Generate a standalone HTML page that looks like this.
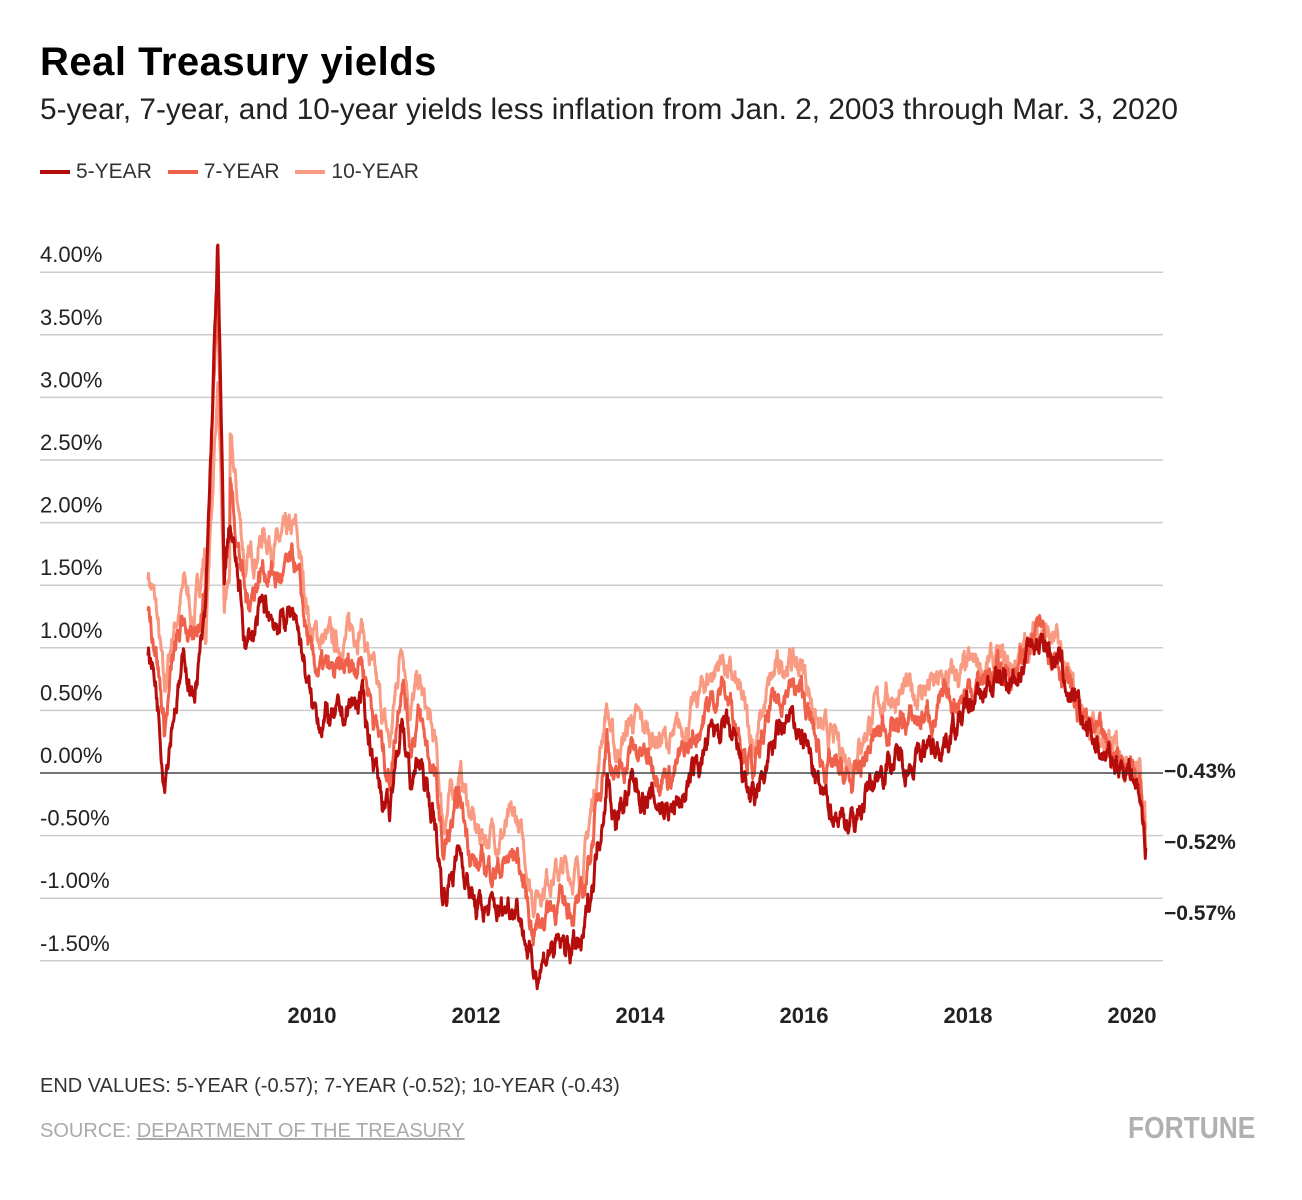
<!DOCTYPE html>
<html><head><meta charset="utf-8"><style>
body{margin:0;background:#fff;width:1302px;height:1200px;overflow:hidden;font-family:"Liberation Sans",sans-serif;}
.t{position:absolute;white-space:nowrap;}
</style></head><body>
<div class="t" style="left:40px;top:40px;font-size:40px;font-weight:bold;color:#000;letter-spacing:0.5px">Real Treasury yields</div>
<div class="t" style="left:40px;top:93px;font-size:29.8px;color:#222">5-year, 7-year, and 10-year yields less inflation from Jan. 2, 2003 through Mar. 3, 2020</div>
<div class="t" style="left:40px;top:160px;font-size:21px;color:#333">
<span style="display:inline-block;width:30px;height:4px;background:#b50c0c;vertical-align:middle;margin-right:6px"></span>5-YEAR
<span style="display:inline-block;width:30px;height:4px;background:#f0614b;vertical-align:middle;margin:0 6px 0 10px"></span>7-YEAR
<span style="display:inline-block;width:30px;height:4px;background:#f99b83;vertical-align:middle;margin:0 6px 0 10px"></span>10-YEAR</div>
<svg id="c" width="1302" height="1200" style="position:absolute;left:0;top:0"></svg>
<div class="t" style="left:40px;top:1075px;font-size:20px;color:#333">END VALUES: 5-YEAR (-0.57); 7-YEAR (-0.52); 10-YEAR (-0.43)</div>
<div class="t" style="left:40px;top:1120px;font-size:20px;color:#aaa">SOURCE: <span style="text-decoration:underline">DEPARTMENT OF THE TREASURY</span></div>
<div class="t" style="left:1128px;top:1110px;font-size:31px;font-weight:bold;color:#b0b0b0;transform:scaleX(0.85);transform-origin:left">FORTUNE</div>
<script>
var s=document.getElementById('c'),h='';
function Y(v){return 773-v*125.2;}
function X(t){return 312+(t-2010)*82;}
for(var i=-3;i<=8;i++){var v=i*0.5,y=Y(v);
 if(i!=0)h+='<line x1="40" x2="1163" y1="'+y+'" y2="'+y+'" stroke="#ccc" stroke-width="1.5"/>';
 h+='<text x="40" y="'+(y-10)+'" font-size="22" fill="#222" font-family="Liberation Sans">'+(v<0?'-':'')+Math.abs(v).toFixed(2)+'%</text>';}
[2010,2012,2014,2016,2018,2020].forEach(function(yr){h+='<text x="'+X(yr)+'" y="1023" font-size="22" font-weight="bold" text-anchor="middle" fill="#222" font-family="Liberation Sans">'+yr+'</text>';});
var k5=[[2008,1.0],[2008.1,0.7],[2008.2,0.0],[2008.3,0.5],[2008.45,0.9],[2008.55,0.6],[2008.7,1.2],[2008.78,2.8],[2008.85,4.2],[2008.93,1.5],[2009.0,2.0],[2009.2,1.0],[2009.4,1.3],[2009.6,1.2],[2009.8,1.3],[2010.0,0.5],[2010.3,0.4],[2010.6,0.6],[2010.8,0.0],[2010.95,-0.4],[2011.1,0.5],[2011.2,-0.1],[2011.3,0.1],[2011.5,-0.4],[2011.6,-1.0],[2011.8,-0.6],[2012.0,-1.1],[2012.3,-1.1],[2012.5,-1.0],[2012.7,-1.6],[2012.9,-1.4],[2013.1,-1.4],[2013.3,-1.4],[2013.5,-0.5],[2013.6,0.0],[2013.7,-0.4],[2013.9,-0.1],[2014.1,-0.2],[2014.4,-0.3],[2014.6,-0.1],[2014.8,0.2],[2015.0,0.4],[2015.2,0.1],[2015.4,-0.3],[2015.6,0.2],[2015.8,0.4],[2016.0,0.3],[2016.2,-0.2],[2016.4,-0.3],[2016.6,-0.4],[2016.8,-0.1],[2017.0,0.1],[2017.3,0.1],[2017.6,0.2],[2018.0,0.5],[2018.3,0.7],[2018.6,0.8],[2018.9,1.1],[2019.1,0.9],[2019.3,0.5],[2019.5,0.3],[2019.7,0.1],[2020.0,0.05],[2020.1,-0.2],[2020.17,-0.57]];
function base(t){for(var i=0;i<k5.length-1;i++){if(t<=k5[i+1][0]){var a=k5[i],b=k5[i+1],f=(t-a[0])/(b[0]-a[0]);return a[1]+(b[1]-a[1])*f;}}return -0.57;}
function off(t,m){var o;if(t<2013.6)o=0.35;else if(t<2017.5)o=0.3;else if(t<2018.5)o=0.3-(t-2017.5)*0.25;else o=0.05;return o*m;}
var seed=7;function r(){seed=(seed*16807)%2147483647;return seed/2147483647-0.5;}
function series(kind,col){var p=[],n=0;for(var t=2008;t<=2020.17;t+=0.006){n=n*0.85+r()*0.14;var b=base(t),v;
 if(kind==5)v=b;else{var m=kind==7?1:1.75;v=b+off(t,m);if(t>2008.7&&t<2009.0){v=b*(kind==7?0.9:0.7)+0.2;}if(t>2020.0)v=b+(kind==7?0.05:0.12)*(1+(t-2020)*5);}
 if(t>2020.16)v=kind==5?-0.57:(kind==7?-0.52:-0.43);
 p.push(X(t).toFixed(1)+','+Y(v+n).toFixed(1));}
 h+='<polyline points="'+p.join(' ')+'" fill="none" stroke="'+col+'" stroke-width="3" stroke-linejoin="round"/>';}
series(10,'#f99b83');series(7,'#f0614b');series(5,'#b50c0c');
h+='<line x1="40" x2="1163" y1="773" y2="773" stroke="#222" stroke-width="1.2"/>';
[['-0.43%',778],['-0.52%',849],['-0.57%',920]].forEach(function(a){h+='<text x="1164" y="'+a[1]+'" font-size="21" font-weight="bold" fill="#222" font-family="Liberation Sans">'+a[0].replace('-','\u2212')+'</text>';});
s.innerHTML=h;
</script>
</body></html>
